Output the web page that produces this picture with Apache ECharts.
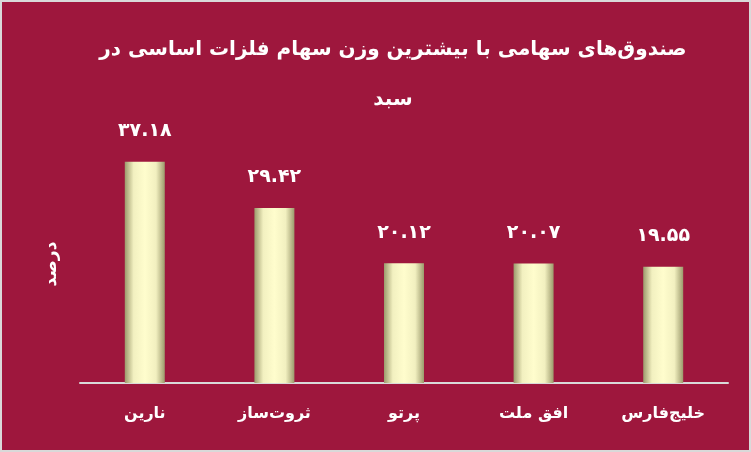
<!DOCTYPE html>
<html><head><meta charset="utf-8">
<script src="https://cdn.jsdelivr.net/npm/echarts@6/dist/echarts.min.js"></script>
<style>
html,body{margin:0;padding:0;background:#9e173d;}
#c{width:751px;height:452px;box-sizing:border-box;border:2px solid #d9d9d9;}
</style></head>
<body><div id="c"></div>
<script>
const titleText = 'صندوق‌های سهامی با بیشترین وزن سهام فلزات اساسی در\nسبد';
const yAxisName = 'درصد';
const categories = ['نارین', 'ثروت‌ساز', 'پرتو', 'افق ملت', 'خلیج‌فارس'];
const values = [37.18, 29.42, 20.12, 20.07, 19.55];
const valueLabels = ['۳۷.۱۸', '۲۹.۴۲', '۲۰.۱۲', '۲۰.۰۷', '۱۹.۵۵'];

const chart = echarts.init(document.getElementById('c'), null, {renderer: 'canvas'});
const font = 'DejaVu Sans';
chart.setOption({
  backgroundColor: '#9e173d',
  animation: false,
  title: {
    text: titleText,
    left: 386, top: 18, textAlign: 'center',
    textStyle: {color: '#ffffff', fontSize: 20, fontWeight: 'bold', fontFamily: font, lineHeight: 50}
  },
  grid: {left: 78, right: 21, top: 143, bottom: 67},
  xAxis: {
    type: 'category', data: categories,
    axisLine: {lineStyle: {color: '#d9d9d9', width: 2}},
    axisTick: {show: false},
    axisLabel: {color: '#ffffff', fontSize: 16, fontWeight: 'bold', fontFamily: font, margin: 23}
  },
  yAxis: {
    type: 'value', min: 0, max: 40, interval: 10,
    name: yAxisName, nameLocation: 'middle', nameGap: 20, nameRotate: 90,
    nameTextStyle: {color: '#ffffff', fontSize: 17, fontWeight: 'bold', fontFamily: font},
    axisLine: {show: false}, axisTick: {show: false}, axisLabel: {show: false},
    splitLine: {show: false}
  },
  series: [{
    type: 'bar', data: values, barWidth: 40,
    itemStyle: {
      color: new echarts.graphic.LinearGradient(0, 0, 1, 0, [
        {offset: 0, color: '#9c9a6c'},
        {offset: 0.22, color: '#f2f0c0'},
        {offset: 0.5, color: '#fffdcd'},
        {offset: 0.78, color: '#f2f0c0'},
        {offset: 1, color: '#9c9a6c'}
      ])
    },
    label: {
      show: true, position: 'top', distance: 21,
      formatter: p => valueLabels[p.dataIndex],
      color: '#ffffff', fontSize: 19, fontWeight: 'bold', fontFamily: font
    }
  }]
});
</script></body></html>
